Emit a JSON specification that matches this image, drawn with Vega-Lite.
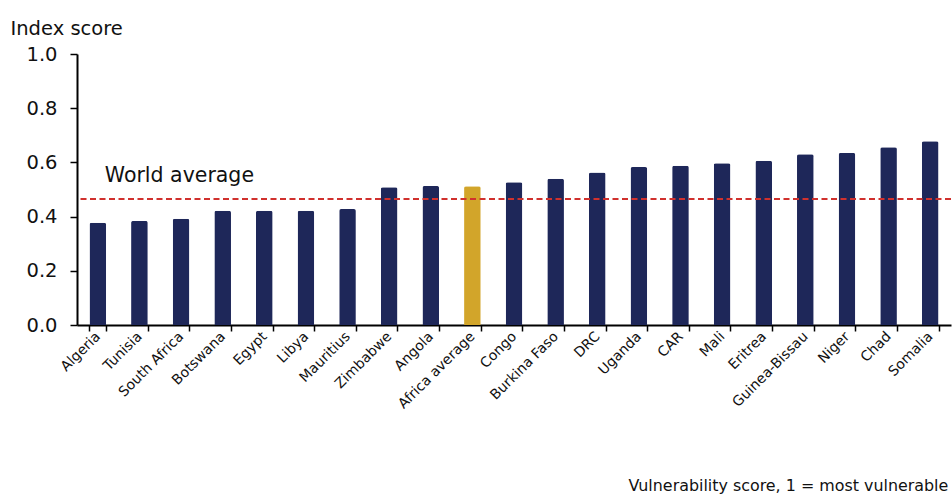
{
  "$schema": "https://vega.github.io/schema/vega-lite/v6.json",
  "autosize": {"type": "none"},
  "width": 874,
  "height": 271,
  "padding": {"left": 77, "top": 54, "right": 1, "bottom": 170},
  "background": "white",
  "config": {
    "view": {"stroke": null},
    "font": "DejaVu Sans, sans-serif",
    "axis": {"grid": false, "domainColor": "#000000", "tickColor": "#000000", "labelColor": "#111111", "titleColor": "#111111", "labelFont": "DejaVu Sans, sans-serif", "titleFont": "DejaVu Sans, sans-serif", "titleFontWeight": "normal"}
  },
  "layer": [
    {
      "data": {
        "values": [
          {"country": "Algeria", "score": 0.377, "group": "Country"},
          {"country": "Tunisia", "score": 0.384, "group": "Country"},
          {"country": "South Africa", "score": 0.392, "group": "Country"},
          {"country": "Botswana", "score": 0.422, "group": "Country"},
          {"country": "Egypt", "score": 0.422, "group": "Country"},
          {"country": "Libya", "score": 0.422, "group": "Country"},
          {"country": "Mauritius", "score": 0.428, "group": "Country"},
          {"country": "Zimbabwe", "score": 0.508, "group": "Country"},
          {"country": "Angola", "score": 0.513, "group": "Country"},
          {"country": "Africa average", "score": 0.512, "group": "Africa average"},
          {"country": "Congo", "score": 0.527, "group": "Country"},
          {"country": "Burkina Faso", "score": 0.540, "group": "Country"},
          {"country": "DRC", "score": 0.563, "group": "Country"},
          {"country": "Uganda", "score": 0.583, "group": "Country"},
          {"country": "CAR", "score": 0.588, "group": "Country"},
          {"country": "Mali", "score": 0.597, "group": "Country"},
          {"country": "Eritrea", "score": 0.606, "group": "Country"},
          {"country": "Guinea-Bissau", "score": 0.630, "group": "Country"},
          {"country": "Niger", "score": 0.635, "group": "Country"},
          {"country": "Chad", "score": 0.656, "group": "Country"},
          {"country": "Somalia", "score": 0.678, "group": "Country"}
        ]
      },
      "mark": {"type": "bar", "cornerRadiusTopLeft": 2, "cornerRadiusTopRight": 2},
      "encoding": {
        "x": {
          "field": "country",
          "type": "nominal",
          "sort": null,
          "scale": {
            "domain": ["Algeria", "Tunisia", "South Africa", "Botswana", "Egypt", "Libya", "Mauritius", "Zimbabwe", "Angola", "Africa average", "Congo", "Burkina Faso", "DRC", "Uganda", "CAR", "Mali", "Eritrea", "Guinea-Bissau", "Niger", "Chad", "Somalia"],
            "paddingInner": 0.6,
            "paddingOuter": 0.3
          },
          "axis": {
            "title": "Vulnerability score, 1 = most vulnerable",
            "titleFontSize": 15.9,
            "titleAlign": "left",
            "titleAnchor": "start",
            "titleBaseline": "alphabetic",
            "titleX": 551,
            "titleY": 165,
            "labelAngle": -45,
            "labelAlign": "right",
            "labelBaseline": "middle",
            "labelFontSize": 14,
            "labelPadding": 3,
            "labelOverlap": false,
            "tickBand": "extent",
            "tickSize": 6,
            "tickWidth": 1.5,
            "domainWidth": 2
          }
        },
        "y": {
          "field": "score",
          "type": "quantitative",
          "scale": {"domain": [0, 1]},
          "axis": {
            "title": "Index score",
            "titleAngle": 0,
            "titleAlign": "left",
            "titleAnchor": "start",
            "titleBaseline": "alphabetic",
            "titleFontSize": 19.5,
            "titleX": -67,
            "titleY": -20,
            "values": [0, 0.2, 0.4, 0.6, 0.8, 1.0],
            "format": ".1f",
            "labelFontSize": 19.5,
            "labelPadding": 13,
            "tickSize": 7,
            "tickWidth": 1.5,
            "domainWidth": 2
          }
        },
        "color": {
          "field": "group",
          "type": "nominal",
          "scale": {"domain": ["Country", "Africa average"], "range": ["#1e2759", "#d2a52a"]},
          "legend": null
        }
      }
    },
    {
      "data": {"values": [{"world": 0.465, "label": "World average"}]},
      "mark": {"type": "rule", "color": "#d0312d", "strokeWidth": 2, "strokeDash": [6, 3.5]},
      "encoding": {"y": {"field": "world", "type": "quantitative"}}
    },
    {
      "data": {"values": [{"world": 0.465, "label": "World average", "anchor": "Algeria"}]},
      "mark": {"type": "text", "align": "left", "baseline": "alphabetic", "fontSize": 20.5, "color": "#111111", "dx": 7, "dy": -16.5},
      "encoding": {
        "x": {"field": "anchor", "type": "nominal"},
        "y": {"field": "world", "type": "quantitative"},
        "text": {"field": "label"}
      }
    }
  ]
}
